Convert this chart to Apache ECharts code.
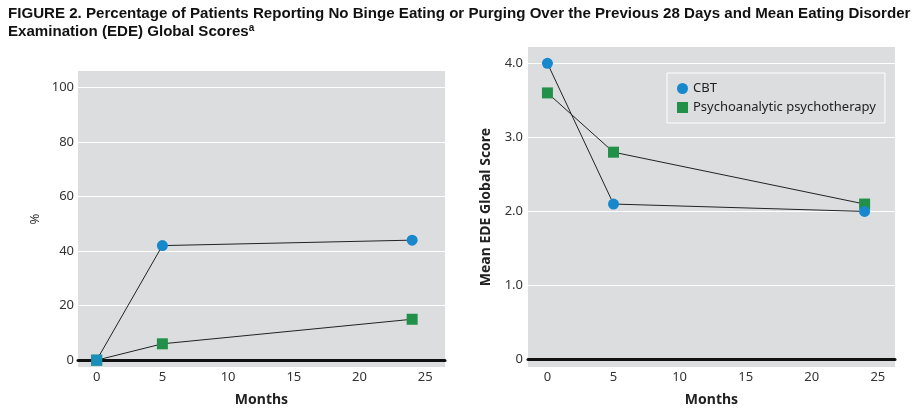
<!DOCTYPE html>
<html><head><meta charset="utf-8">
<script src="https://cdn.jsdelivr.net/npm/echarts@6/dist/echarts.min.js"></script>
<style>html,body{margin:0;padding:0;background:#fff}#c{width:922px;height:409px}</style>
</head><body><div id="c"></div>
<script>
var months = [0, 5, 24];
var xTicks = [0, 5, 10, 15, 20, 25];
var pctTicks = [0, 20, 40, 60, 80, 100];
var edeTicks = [0, 1, 2, 3, 4];
var cbtPct = [0, 42, 44];
var psyPct = [0, 6, 15];
var cbtEde = [4.0, 2.1, 2.0];
var psyEde = [3.6, 2.8, 2.1];
var seriesNames = ['CBT', 'Psychoanalytic psychotherapy'];

var BLUE = '#1888cc', GREEN = '#219048', BG = '#dcdddf';
var FONT = 'Noto Sans';
function pairs(xs, ys){ return xs.map(function(x,i){ return [x, ys[i]]; }); }

function xAxis(gi, min, max){
  return {type:'value', gridIndex:gi, min:min, max:max,
    name:'Months', nameLocation:'middle', nameGap:26,
    nameTextStyle:{fontFamily:FONT, fontWeight:'bold', fontSize:14, color:'#222'},
    axisLine:{show:true, onZero:true, lineStyle:{color:'#111', width:3}},
    axisTick:{show:false, customValues:xTicks},
    axisLabel:{customValues:xTicks, margin:4, fontFamily:FONT, fontSize:13, color:'#333'},
    splitLine:{show:false}};
}
var option = {
  animation:false,
  title:{left:3, top:0, text:'{b|FIGURE 2. Percentage of Patients Reporting No Binge Eating or Purging Over the Previous 28 Days and Mean Eating Disorder}\n{b|Examination (EDE) Global Scores}{s|a}',
    textStyle:{rich:{
      b:{fontFamily:'Liberation Sans', fontWeight:'bold', fontSize:15.1, color:'#111', lineHeight:18},
      s:{fontFamily:'Liberation Sans', fontWeight:'bold', fontSize:10, color:'#111', verticalAlign:'top', padding:[0,0,8,0]}
    }}},
  legend:{data:[{name:seriesNames[0], icon:'circle'},{name:seriesNames[1], icon:'rect'}],
    left:667, top:73, orient:'vertical', itemWidth:11, itemHeight:11, itemGap:6,
    padding:[9,9,9,10], borderColor:'#fff', borderWidth:1, backgroundColor:BG,
    textStyle:{fontFamily:FONT, fontSize:13, color:'#222'}},
  grid:[
    {left:78, right:477, top:71, bottom:42, show:true, backgroundColor:BG, borderWidth:0, outerBoundsMode:'none', containLabel:false},
    {left:528, right:27, top:47, bottom:42, show:true, backgroundColor:BG, borderWidth:0, outerBoundsMode:'none', containLabel:false}
  ],
  xAxis:[xAxis(0, -1.42, 26.5), xAxis(1, -1.47, 26.3)],
  yAxis:[
    {type:'value', gridIndex:0, min:-2.5, max:106, name:'%', nameLocation:'middle', nameGap:36,
      nameTextStyle:{fontFamily:FONT, fontSize:13, color:'#333'},
      axisLine:{show:false}, axisTick:{show:false, customValues:pctTicks},
      axisLabel:{customValues:pctTicks, margin:4, fontFamily:FONT, fontSize:13, color:'#333'},
      splitLine:{show:true, lineStyle:{color:'#fff', width:1}}},
    {type:'value', gridIndex:1, min:-0.1, max:4.22, name:'Mean EDE Global Score', nameLocation:'middle', nameGap:35,
      nameTextStyle:{fontFamily:FONT, fontWeight:'bold', fontSize:14, color:'#222'},
      axisLine:{show:false}, axisTick:{show:false, customValues:edeTicks},
      axisLabel:{customValues:edeTicks, margin:5, fontFamily:FONT, fontSize:13, color:'#333',
        formatter:function(v){ return v===0 ? '0' : v.toFixed(1); }},
      splitLine:{show:true, lineStyle:{color:'#fff', width:1}}}
  ],
  series:[
    {name:seriesNames[1], type:'line', xAxisIndex:0, yAxisIndex:0, data:pairs(months, psyPct),
      symbol:'rect', symbolSize:11, itemStyle:{color:GREEN}, lineStyle:{color:'#222', width:1}, z:3},
    {name:seriesNames[0], type:'line', xAxisIndex:0, yAxisIndex:0,
      data:pairs(months, cbtPct).map(function(p,i){ return i===0 ? {value:p, symbol:'rect', symbolSize:11, itemStyle:{color:'#1a8fb8'}} : p; }),
      symbol:'circle', symbolSize:11, itemStyle:{color:BLUE}, lineStyle:{color:'#222', width:1}, z:4},
    {name:seriesNames[1], type:'line', xAxisIndex:1, yAxisIndex:1, data:pairs(months, psyEde),
      symbol:'rect', symbolSize:11, itemStyle:{color:GREEN}, lineStyle:{color:'#222', width:1}, z:3},
    {name:seriesNames[0], type:'line', xAxisIndex:1, yAxisIndex:1, data:pairs(months, cbtEde),
      symbol:'circle', symbolSize:11, itemStyle:{color:BLUE}, lineStyle:{color:'#222', width:1}, z:4}
  ]
};
var chart = echarts.init(document.getElementById('c'), null, {renderer:'canvas'});
chart.setOption(option);
</script></body></html>
